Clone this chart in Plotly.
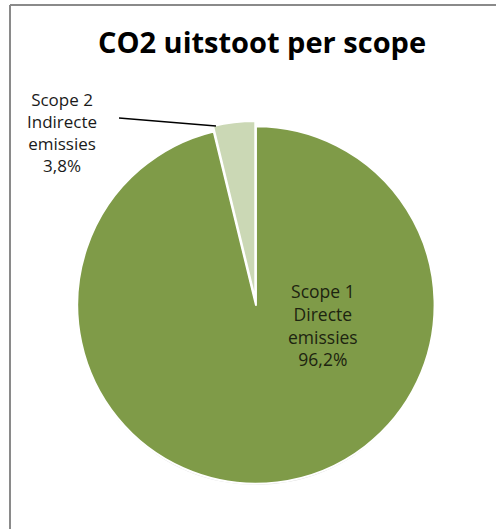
import plotly.graph_objects as go

categories = ["Scope 1<br>Directe<br>emissies", "Scope 2<br>Indirecte<br>emissies"]
values = [96.2, 3.8]
colors = ["#7f9b48", "#cbd8b5"]
pulls = [0, 0.03]

W, H = 496, 529

def pct(v):
    return f"{v:.1f}".replace(".", ",") + "%"

fig = go.Figure()
fig.add_trace(go.Pie(
    labels=categories,
    values=values,
    sort=False,
    direction="clockwise",
    rotation=0,
    pull=pulls,
    marker=dict(colors=colors, line=dict(color="white", width=2)),
    textinfo="none",
    hoverinfo="label+percent",
    showlegend=False,
    domain=dict(x=[0.145, 0.887], y=[0.0756, 0.7713]),
))

# soft shadow under the pie (bottom only)
cx, cy, r = 256, 307, 178
fig.add_shape(type="circle", xref="paper", yref="paper", layer="below",
              x0=(cx-r)/W, x1=(cx+r)/W, y0=1-(cy+r)/H, y1=1-(cy-r)/H,
              fillcolor="#dadada", line=dict(width=0))

# frame (left and top edges visible)
fig.add_shape(type="line", xref="paper", yref="paper", x0=10/W, x1=10/W, y0=0, y1=1-5/H,
              line=dict(color="#8a8a8a", width=2))
fig.add_shape(type="line", xref="paper", yref="paper", x0=10/W, x1=1, y0=1-5/H, y1=1-5/H,
              line=dict(color="#8a8a8a", width=2))

# leader line for Scope 2
fig.add_shape(type="line", xref="paper", yref="paper", x0=119/W, y0=1-118/H, x1=216/W, y1=1-126/H,
              line=dict(color="black", width=1.5))

font = "Open Sans"
fig.add_annotation(text=categories[0] + "<br>" + pct(values[0]), xref="paper", yref="paper",
                   x=323/W, y=1-325/H, xanchor="center", yanchor="middle",
                   showarrow=False, align="center",
                   font=dict(family=font, size=17.5, color="#1d2410"))
fig.add_annotation(text=categories[1] + "<br>" + pct(values[1]), xref="paper", yref="paper",
                   x=62/W, y=1-133/H, xanchor="center", yanchor="middle",
                   showarrow=False, align="center",
                   font=dict(family=font, size=17, color="#1a1a1a"))

fig.update_layout(
    width=W, height=H,
    margin=dict(l=0, r=0, t=0, b=0),
    paper_bgcolor="white",
    plot_bgcolor="white",
    title=dict(text="<b>CO2 uitstoot per scope</b>", x=262/W, xanchor="center",
               y=1-43/H, yanchor="middle",
               font=dict(family=font, size=29, color="black")),
)

fig.write_html("out.html", config={"displayModeBar": False},
               post_script="document.body.style.margin='0';")
